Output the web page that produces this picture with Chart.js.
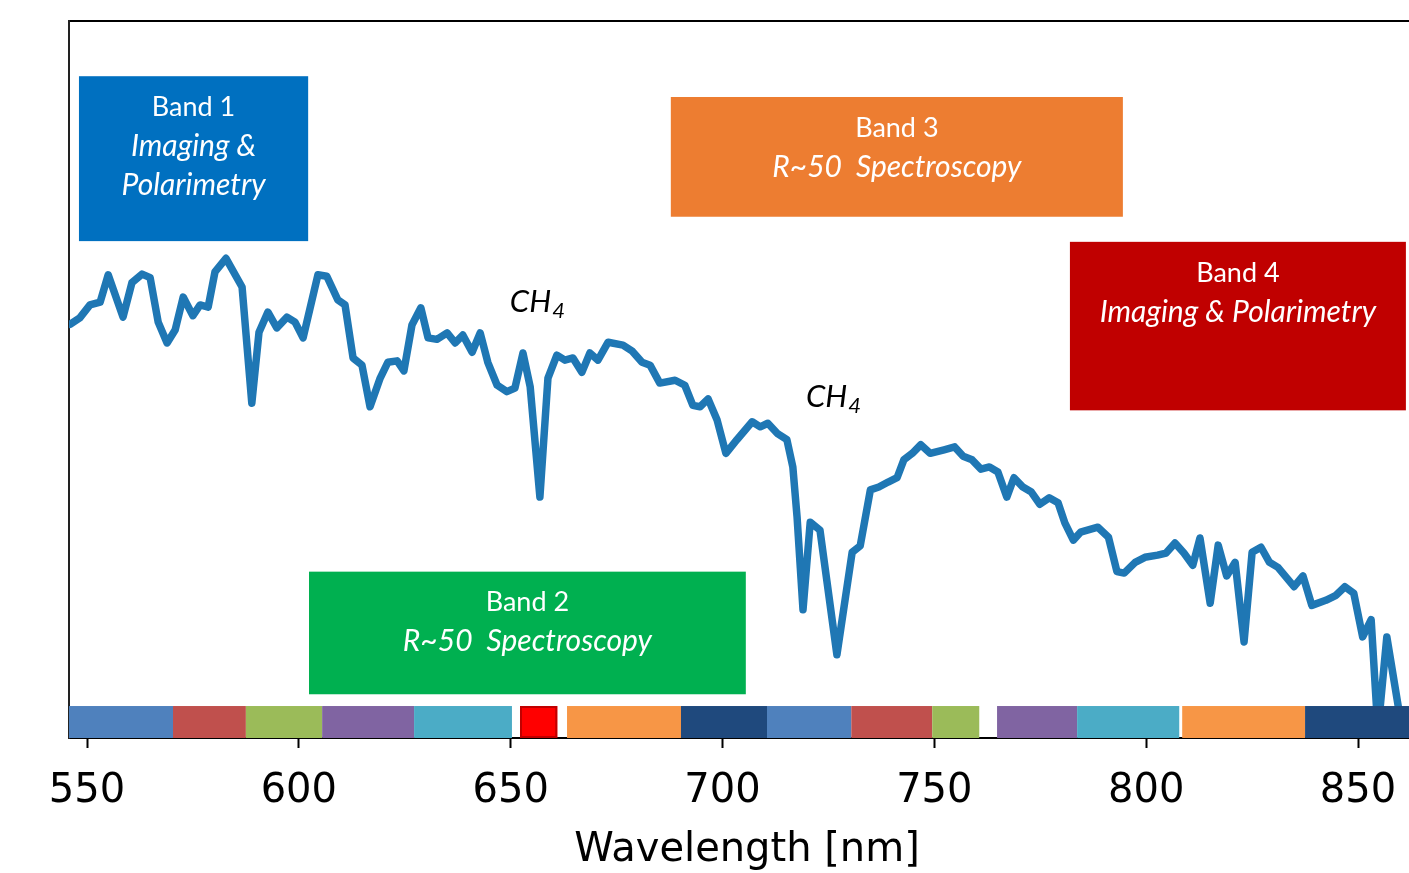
<!DOCTYPE html>
<html>
<head>
<meta charset="utf-8">
<title>Spectrum and instrument bands</title>
<script src="https://cdn.jsdelivr.net/npm/chart.js@4.4.1/dist/chart.umd.min.js"></script>
<style>
  html, body { margin: 0; padding: 0; background: #fff; overflow: hidden; }
  #wrap { position: relative; width: 1440px; height: 873px; }
</style>
</head>
<body>
<div id="wrap"><canvas id="spectrumChart"></canvas></div>
<script>
"use strict";

// --- spectrum (wavelength in nm, relative flux) ---
const WAVELENGTH = [
  546.0, 548.3, 550.7, 553.1, 555.0, 558.5, 560.6, 563.0, 564.9, 566.8,
  568.9, 570.8, 572.7, 575.0, 576.7, 578.6, 580.2, 582.8, 586.6, 588.9,
  590.6, 592.7, 594.8, 597.2, 599.1, 601.0, 604.5, 606.6, 609.2, 610.9,
  612.8, 614.9, 616.8, 619.2, 621.0, 623.2, 624.8, 626.7, 628.8, 630.5,
  632.6, 635.0, 636.9, 638.7, 640.9, 642.8, 644.6, 646.8, 649.1, 651.0,
  652.9, 654.6, 656.9, 658.8, 660.9, 662.8, 664.7, 666.8, 668.7, 670.6,
  673.0, 676.5, 678.6, 681.0, 682.9, 685.2, 688.8, 691.1, 693.0, 694.7,
  696.6, 698.7, 700.8, 703.4, 707.0, 708.9, 710.7, 712.9, 715.2, 716.6,
  717.6, 719.0, 720.7, 723.0, 727.0, 730.6, 732.5, 734.9, 736.9, 739.1,
  741.2, 742.8, 744.8, 746.8, 749.0, 752.3, 754.8, 756.8, 758.9, 761.0,
  763.0, 765.0, 767.1, 768.8, 770.9, 772.9, 774.9, 777.1, 779.2, 780.8,
  782.8, 784.5, 788.6, 791.1, 793.1, 794.8, 797.4, 799.7, 802.7, 804.7,
  806.8, 808.9, 811.0, 812.7, 815.1, 817.0, 819.0, 821.0, 823.1, 825.0,
  827.1, 829.1, 831.1, 834.9, 837.0, 839.1, 842.4, 844.8, 846.9, 849.0,
  851.1, 853.1, 854.7, 856.8, 861.0
];
const FLUX = [
  57.7, 58.6, 60.4, 60.8, 64.6, 58.7, 63.5, 64.7, 64.2, 58.0,
  55.1, 56.9, 61.5, 58.9, 60.4, 60.1, 65.0, 66.9, 62.9, 46.7,
  56.6, 59.4, 57.2, 58.7, 58.0, 55.8, 64.6, 64.4, 61.1, 60.4,
  53.0, 52.0, 46.2, 50.2, 52.4, 52.6, 51.2, 57.6, 60.0, 55.8,
  55.6, 56.5, 55.1, 56.2, 53.8, 56.5, 52.4, 49.2, 48.3, 48.8,
  53.7, 49.0, 33.6, 50.2, 53.4, 52.7, 53.0, 51.0, 53.7, 52.7,
  55.2, 54.8, 54.0, 52.4, 52.0, 49.5, 49.9, 49.2, 46.4, 46.2,
  47.3, 44.4, 39.7, 41.6, 44.1, 43.4, 43.9, 42.5, 41.6, 37.8,
  30.8, 17.9, 30.1, 29.0, 11.6, 25.9, 26.8, 34.6, 35.0, 35.7,
  36.3, 38.8, 39.7, 40.9, 39.7, 40.2, 40.6, 39.3, 38.8, 37.5,
  37.8, 37.1, 33.6, 36.3, 35.0, 34.3, 32.6, 33.5, 32.8, 30.0,
  27.6, 28.7, 29.4, 28.0, 23.2, 23.0, 24.5, 25.2, 25.5, 25.8,
  27.2, 25.8, 24.1, 27.9, 18.8, 26.9, 22.6, 24.5, 13.4, 25.9,
  26.6, 24.5, 23.8, 21.1, 22.6, 18.5, 19.2, 19.9, 21.1, 20.2,
  14.1, 16.5, 1.0, 14.1, -1.0
];

const X_TICKS = [550, 600, 650, 700, 750, 800, 850];

// --- instrument bands (boxes, in data units) ---
const BAND_TITLES = ["Band 1", "Band 2", "Band 3", "Band 4"];
const BAND_MODES = [["Imaging &", "Polarimetry"], ["R~50  Spectroscopy"], ["R~50  Spectroscopy"], ["Imaging & Polarimetry"]];
const BAND_COLORS = ["#0070c0", "#00b050", "#ed7d31", "#c00000"];
const BAND_NM_FROM = [548.1, 602.4, 687.8, 782.0];
const BAND_NM_TO = [602.2, 705.5, 794.5, 861.3];
const BAND_FLUX_LOW = [69.3, 6.1, 72.7, 45.7];
const BAND_FLUX_HIGH = [92.3, 23.2, 89.4, 69.2];

// --- filter strip along the bottom ---
const STRIP_FROM = [545.75, 570.3, 587.5, 605.5, 627.2, 652.2, 663.3, 690.2, 710.5, 730.4, 749.5, 764.8, 783.7, 808.5, 837.5];
const STRIP_TO = [570.3, 587.5, 605.5, 627.2, 650.3, 661.0, 690.2, 710.5, 730.4, 749.5, 760.6, 783.7, 807.8, 837.5, 866.0];
const STRIP_COLORS = ["#4f81bd", "#c0504d", "#9bbb59", "#8064a2", "#4bacc6", "#ff0000", "#f79646", "#1f497d",
                      "#4f81bd", "#c0504d", "#9bbb59", "#8064a2", "#4bacc6", "#f79646", "#1f497d"];
const STRIP_HEIGHT = 4.46;

// --- methane absorption labels ---
const CH4_NM = [649.8, 719.7];
const CH4_FLUX = [60.9, 47.7];

const BOX_FONT = "Lato, 'Open Sans', sans-serif";

const bandOverlay = {
  id: "bandOverlay",
  afterDatasetsDraw(chart) {
    const { ctx, chartArea, scales: { x, y } } = chart;
    ctx.save();
    ctx.beginPath();
    ctx.rect(chartArea.left, chartArea.top, chartArea.right - chartArea.left, chartArea.bottom - chartArea.top);
    ctx.clip();

    // colour strip
    const sTop = y.getPixelForValue(STRIP_HEIGHT);
    const sBot = y.getPixelForValue(0);
    STRIP_COLORS.forEach((c, i) => {
      const x0 = x.getPixelForValue(STRIP_FROM[i]);
      const x1 = x.getPixelForValue(STRIP_TO[i]);
      ctx.fillStyle = c;
      ctx.fillRect(x0, sTop, x1 - x0, sBot - sTop);
      if (c === "#ff0000") {
        ctx.strokeStyle = "#c00000";
        ctx.lineWidth = 2;
        ctx.strokeRect(x0 + 1, sTop + 1, x1 - x0 - 2, sBot - sTop - 2);
      }
    });

    // band boxes
    ctx.textAlign = "center";
    ctx.textBaseline = "middle";
    BAND_TITLES.forEach((title, i) => {
      const x0 = x.getPixelForValue(BAND_NM_FROM[i]);
      const x1 = x.getPixelForValue(BAND_NM_TO[i]);
      const y0 = y.getPixelForValue(BAND_FLUX_HIGH[i]);
      const y1 = y.getPixelForValue(BAND_FLUX_LOW[i]);
      ctx.fillStyle = BAND_COLORS[i];
      ctx.fillRect(x0, y0, x1 - x0, y1 - y0);
      const cx = (x0 + x1) / 2;
      ctx.fillStyle = "#ffffff";
      ctx.font = "27px " + BOX_FONT;
      ctx.fillText(title, cx, y0 + 31);
      ctx.font = "italic 30px " + BOX_FONT;
      BAND_MODES[i].forEach((line, k) => {
        ctx.fillText(line, cx, y0 + 31 + 39 * (k + 1));
      });
    });

    // CH4 labels
    ctx.fillStyle = "#000000";
    ctx.textAlign = "left";
    ctx.textBaseline = "alphabetic";
    CH4_NM.forEach((nm, i) => {
      const px = x.getPixelForValue(nm);
      const py = y.getPixelForValue(CH4_FLUX[i]) + 11;
      ctx.font = "italic 31px " + BOX_FONT;
      ctx.fillText("CH", px, py);
      const w = ctx.measureText("CH").width;
      ctx.font = "italic 22px " + BOX_FONT;
      ctx.fillText("4", px + w + 1, py + 6);
    });
    ctx.restore();
  }
};

const spectrumPoints = WAVELENGTH.map((w, i) => ({ x: w, y: FLUX[i] }));

new Chart(document.getElementById("spectrumChart"), {
  type: "line",
  data: {
    datasets: [{
      label: "Spectrum",
      data: spectrumPoints,
      borderColor: "#1f77b4",
      borderWidth: 7.5,
      borderJoinStyle: "round",
      borderCapStyle: "round",
      pointRadius: 0,
      tension: 0,
      fill: false
    }]
  },
  options: {
    responsive: true,
    maintainAspectRatio: false,
    animation: false,
    layout: { padding: { left: 0, right: 15, top: 0, bottom: 0 } },
    plugins: {
      legend: { display: false },
      tooltip: { enabled: false }
    },
    scales: {
      x: {
        type: "linear",
        position: "bottom",
        min: 545.75,
        max: 865.81,
        afterBuildTicks: s => { s.ticks = X_TICKS.map(v => ({ value: v })); },
        afterFit: s => { s.height = 135; },
        ticks: {
          color: "#000",
          padding: 20,
          maxRotation: 0,
          autoSkip: false,
          font: { family: "'DejaVu Sans'", size: 40 }
        },
        grid: { display: true, drawOnChartArea: false, drawTicks: true, tickLength: 10, tickWidth: 2, tickColor: "#000" },
        border: { display: true, color: "#000", width: 2 },
        title: {
          display: true,
          text: "Wavelength [nm]",
          color: "#000",
          padding: { top: 0, bottom: 2 },
          font: { family: "'DejaVu Sans'", size: 40, lineHeight: 1.0 }
        }
      },
      x2: {
        type: "linear",
        position: "top",
        min: 545.75,
        max: 865.81,
        afterFit: s => { s.height = 21; },
        ticks: { display: false },
        grid: { display: false },
        border: { display: true, color: "#000", width: 2 }
      },
      y: {
        min: 0,
        max: 100,
        afterFit: s => { s.width = 69; },
        ticks: { display: false },
        grid: { display: false },
        border: { display: true, color: "#222", width: 2 }
      }
    }
  },
  plugins: [bandOverlay]
});
</script>
</body>
</html>
